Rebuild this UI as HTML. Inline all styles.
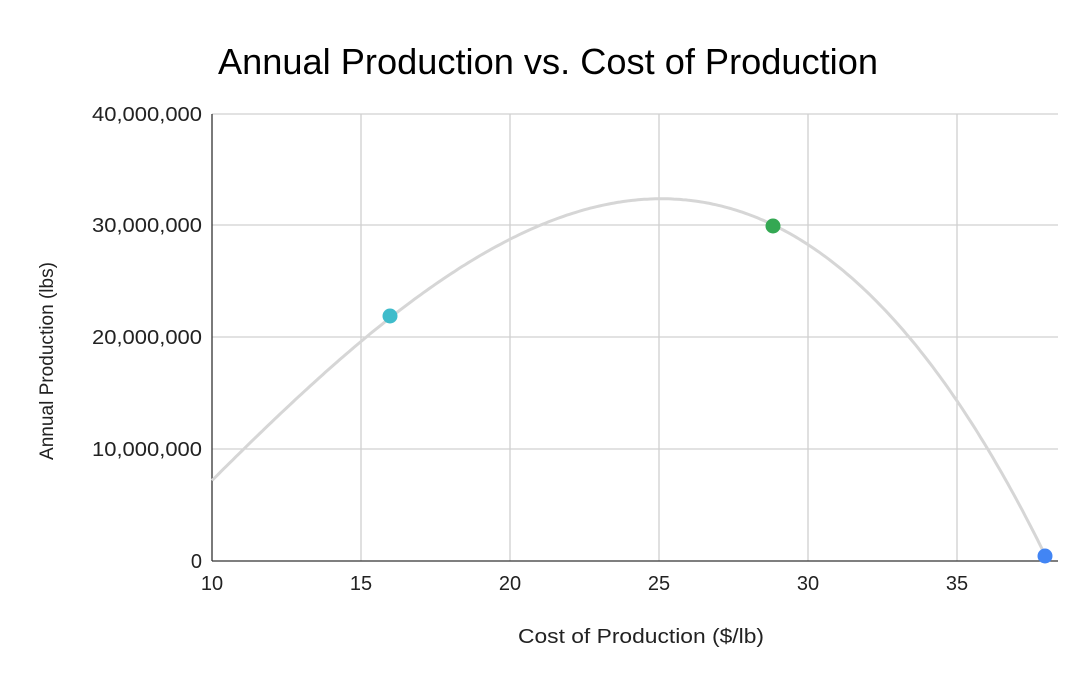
<!DOCTYPE html>
<html><head><style>
body{margin:0;background:#fff;}
svg text{font-family:"Liberation Sans",Arial,sans-serif;}
</style></head><body>
<svg id="s" width="1080" height="675" xmlns="http://www.w3.org/2000/svg">
<rect width="1080" height="675" fill="#fff"/>
<text x="548" y="74" font-size="36" text-anchor="middle" fill="#000" textLength="660" lengthAdjust="spacingAndGlyphs">Annual Production vs. Cost of Production</text>
<g stroke="#d0d0d0" stroke-width="1.3">
<line x1="212" y1="114" x2="1058" y2="114"/>
<line x1="212" y1="225" x2="1058" y2="225"/>
<line x1="212" y1="337" x2="1058" y2="337"/>
<line x1="212" y1="449" x2="1058" y2="449"/>
<line x1="361" y1="114" x2="361" y2="561"/>
<line x1="510" y1="114" x2="510" y2="561"/>
<line x1="659" y1="114" x2="659" y2="561"/>
<line x1="808" y1="114" x2="808" y2="561"/>
<line x1="957" y1="114" x2="957" y2="561"/>
</g>
<line x1="212" y1="114" x2="212" y2="561" stroke="#333" stroke-width="1.3"/>
<line x1="212" y1="561" x2="1058" y2="561" stroke="#333" stroke-width="1.3"/>
<g font-size="20" fill="#222" text-anchor="end">
<text x="202" y="121" textLength="110" lengthAdjust="spacingAndGlyphs">40,000,000</text>
<text x="202" y="232" textLength="110" lengthAdjust="spacingAndGlyphs">30,000,000</text>
<text x="202" y="344" textLength="110" lengthAdjust="spacingAndGlyphs">20,000,000</text>
<text x="202" y="456" textLength="110" lengthAdjust="spacingAndGlyphs">10,000,000</text>
<text x="202" y="568">0</text>
</g>
<g font-size="20" fill="#222" text-anchor="middle">
<text x="212" y="590">10</text><text x="361" y="590">15</text><text x="510" y="590">20</text>
<text x="659" y="590">25</text><text x="808" y="590">30</text><text x="957" y="590">35</text>
</g>
<text x="641" y="643" font-size="20" text-anchor="middle" fill="#222" textLength="246" lengthAdjust="spacingAndGlyphs">Cost of Production ($/lb)</text>
<text transform="translate(53,361) rotate(-90)" font-size="19" text-anchor="middle" fill="#222" textLength="198" lengthAdjust="spacingAndGlyphs">Annual Production (lbs)</text>
<path id="c" fill="none" stroke="#d6d6d6" stroke-width="3"/>
<circle cx="390" cy="316" r="7.5" fill="#3fbccb"/>
<circle cx="773" cy="226" r="7.5" fill="#34a853"/>
<circle cx="1045" cy="556" r="7.5" fill="#4285f4"/>
</svg>
<script>
var P=[[10,7.2],[16,21.8],[25,32.4],[30,28.3],[38,0.3]];
function f(x){var s=0;for(var i=0;i<P.length;i++){var t=P[i][1];for(var j=0;j<P.length;j++)if(j!=i)t*=(x-P[j][0])/(P[i][0]-P[j][0]);s+=t;}return s;}
var d="";for(var x=10;x<=38.0001;x+=0.1){var px=212+(x-10)*29.8,py=561-f(x)*11.18;d+=(d?"L":"M")+px.toFixed(1)+" "+py.toFixed(1);}
document.getElementById("c").setAttribute("d",d);
</script>
</body></html>
